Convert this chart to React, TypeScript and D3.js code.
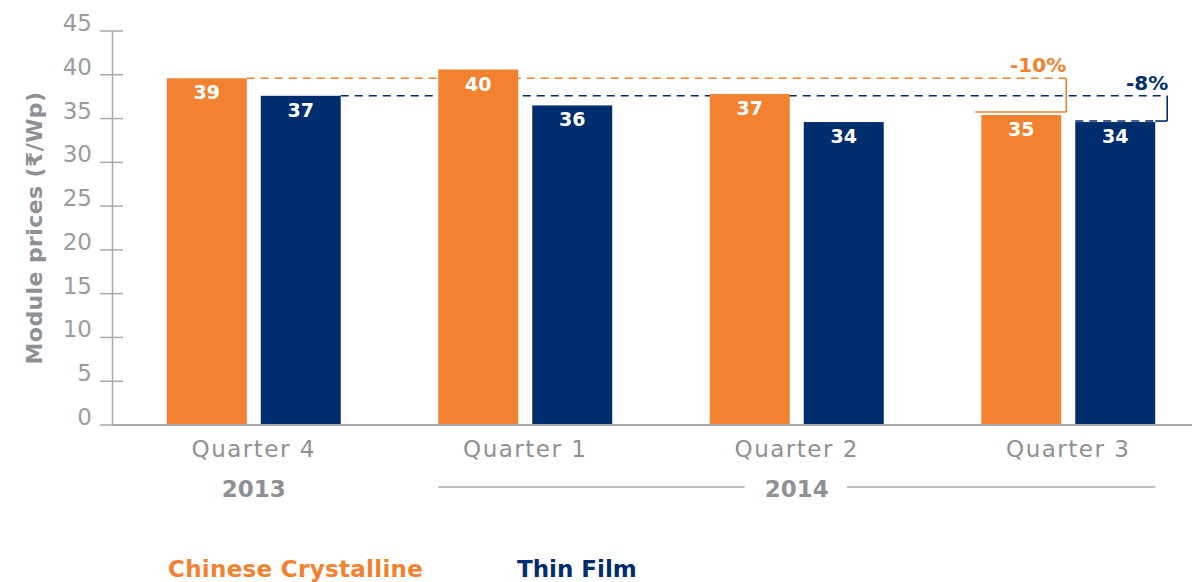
import React from "react";
import * as d3 from "d3";

const quarters = ["Quarter 4", "Quarter 1", "Quarter 2", "Quarter 3"];
const seriesNames = ["Chinese Crystalline", "Thin Film"];
const crystallineValues = [39.6, 40.6, 37.8, 35.4];
const thinFilmValues = [37.6, 36.5, 34.6, 34.6];
const crystallineLabels = ["39", "40", "37", "35"];
const thinFilmLabels = ["37", "36", "34", "34"];
const yTicks = [0, 5, 10, 15, 20, 25, 30, 35, 40, 45];
const changeLabels = ["-10%", "-8%"];
const years = ["2013", "2014"];

const ORANGE = "#F28130";
const NAVY = "#002D6E";
const AXIS = "#A7A9AC";
const TEXT = "#8F9093";
const FONT = "'DejaVu Sans', 'Roboto', sans-serif";

export default function App() {
  const W = 1192;
  const H = 582;
  const y = d3.scaleLinear().domain([0, 45]).range([425, 31]);
  const x0 = d3.scaleBand<string>().domain(quarters).range([118, 1204]);
  const x1 = d3
    .scaleBand<string>()
    .domain(seriesNames)
    .range([0, x0.bandwidth()])
    .paddingInner(0.149)
    .paddingOuter(0.519);
  const series = [
    { name: seriesNames[0], values: crystallineValues, labels: crystallineLabels, color: ORANGE },
    { name: seriesNames[1], values: thinFilmValues, labels: thinFilmLabels, color: NAVY },
  ];
  const bw = x1.bandwidth();
  const barX = (qi: number, si: number) => (x0(quarters[qi]) as number) + (x1(seriesNames[si]) as number);

  const last = quarters.length - 1;
  const oStartX = barX(0, 0) + bw;
  const oBracketX = barX(last, 0) + bw + 5;
  const oTopY = y(crystallineValues[0]);
  const oBotY = y(crystallineValues[last]) - 3;
  const nStartX = barX(0, 1) + bw;
  const nBracketX = barX(last, 1) + bw + 12;
  const nTopY = y(thinFilmValues[0]);
  const nBotY = y(thinFilmValues[last]) - 1;

  const center = (i: number) => (x0(quarters[i]) as number) + x0.bandwidth() / 2;
  const c0 = center(0);
  const c1 = center(1);
  const c2 = center(2);
  const c3 = center(3);

  return (
    <svg width={W} height={H} style={{ position: "absolute", left: 0, top: 0, background: "#fff" }} fontFamily={FONT}>
      {/* dashed reference lines (behind bars) */}
      <line x1={oStartX} x2={oBracketX} y1={oTopY} y2={oTopY} stroke={ORANGE} strokeWidth={1.6} strokeDasharray="8,6" />
      <line x1={nStartX} x2={nBracketX} y1={nTopY} y2={nTopY} stroke={NAVY} strokeWidth={1.6} strokeDasharray="8,6" />

      {/* bars */}
      {series.map((s, si) =>
        s.values.map((v, qi) => (
          <rect key={`${si}-${qi}`} x={barX(qi, si)} y={y(v)} width={bw} height={y(0) - y(v)} fill={s.color} />
        ))
      )}
      {series.map((s, si) =>
        s.values.map((v, qi) => (
          <text
            key={`l${si}-${qi}`}
            x={barX(qi, si) + bw / 2}
            y={y(v) + 21}
            textAnchor="middle"
            fill="#fff"
            fontWeight="bold"
            fontSize={19}
          >
            {s.labels[qi]}
          </text>
        ))
      )}

      {/* bracket verticals and bottoms */}
      <line x1={oBracketX} x2={oBracketX} y1={oTopY} y2={oBotY} stroke={ORANGE} strokeWidth={1.6} />
      <line x1={barX(last, 0) - 6} x2={oBracketX} y1={oBotY} y2={oBotY} stroke={ORANGE} strokeWidth={1.6} />
      <line x1={nBracketX} x2={nBracketX} y1={nTopY} y2={nBotY} stroke={NAVY} strokeWidth={1.6} />
      <line x1={barX(last, 1) + bw} x2={nBracketX} y1={nBotY} y2={nBotY} stroke={NAVY} strokeWidth={1.6} />
      <line x1={barX(last, 1)} x2={barX(last, 1) + bw} y1={nBotY} y2={nBotY} stroke={NAVY} strokeWidth={1.6} strokeDasharray="8,6" />
      <text x={oBracketX} y={72} textAnchor="end" fill={ORANGE} fontWeight="bold" fontSize={20}>
        {changeLabels[0]}
      </text>
      <text x={nBracketX + 1} y={90} textAnchor="end" fill={NAVY} fontWeight="bold" fontSize={20}>
        {changeLabels[1]}
      </text>

      {/* y axis */}
      <line x1={112.5} x2={112.5} y1={y(45)} y2={y(0)} stroke={AXIS} strokeWidth={1.5} />
      {yTicks.map((t) => (
        <g key={t}>
          <line x1={100} x2={123} y1={y(t)} y2={y(t)} stroke={AXIS} strokeWidth={1.5} />
          <text x={92} y={y(t)} textAnchor="end" fill="#9A9B9E" fontSize={23}>
            {t}
          </text>
        </g>
      ))}
      <text
        transform={`translate(42, 228) rotate(-90)`}
        textAnchor="middle"
        fill={TEXT}
        fontWeight="bold"
        fontSize={22}
        letterSpacing={0.4}
      >
        Module prices (₹/Wp)
      </text>

      {/* baseline */}
      <line x1={112} x2={W} y1={y(0)} y2={y(0)} stroke={AXIS} strokeWidth={2} />

      {/* category labels */}
      {quarters.map((q, i) => (
        <text key={q} x={center(i)} y={457} textAnchor="middle" fill={TEXT} fontSize={23} letterSpacing={1.5}>
          {q}
        </text>
      ))}

      {/* years */}
      <text x={c0} y={497} textAnchor="middle" fill={TEXT} fontWeight="bold" fontSize={23}>
        {years[0]}
      </text>
      <line x1={c1 - 87} x2={c2 - 52} y1={487} y2={487} stroke={AXIS} strokeWidth={1.5} />
      <text x={c2} y={497} textAnchor="middle" fill={TEXT} fontWeight="bold" fontSize={23}>
        {years[1]}
      </text>
      <line x1={c2 + 50} x2={c3 + 87} y1={487} y2={487} stroke={AXIS} strokeWidth={1.5} />

      {/* legend */}
      <text x={168} y={577} fill={ORANGE} fontWeight="bold" fontSize={23} letterSpacing={0.3}>
        {seriesNames[0]}
      </text>
      <text x={517} y={577} fill={NAVY} fontWeight="bold" fontSize={23}>
        {seriesNames[1]}
      </text>
    </svg>
  );
}
